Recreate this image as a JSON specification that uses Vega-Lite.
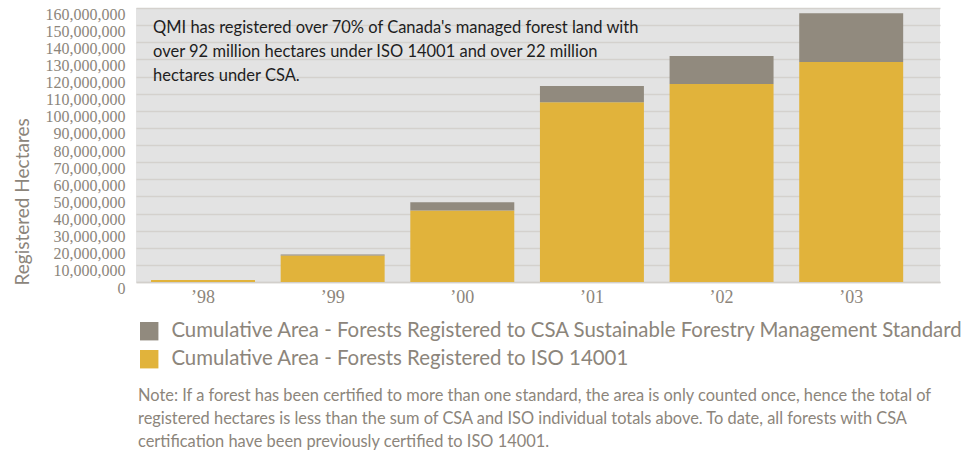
{
  "$schema": "https://vega.github.io/schema/vega-lite/v6.json",
  "autosize": {"type": "none"},
  "width": 804,
  "height": 274,
  "padding": {"left": 136, "top": 8, "right": 34, "bottom": 172},
  "background": "white",
  "config": {
    "view": {"fill": "#E3E3E3", "stroke": null},
    "font": "Lato"
  },
  "title": {
    "text": [
      "Note: If a forest has been certified to more than one standard, the area is only counted once, hence the total of",
      "registered hectares is less than the sum of CSA and ISO individual totals above. To date, all forests with CSA",
      "certification have been previously certified to ISO 14001."
    ],
    "orient": "bottom",
    "anchor": "start",
    "frame": "group",
    "font": "Lato",
    "fontSize": 16.4,
    "fontWeight": "normal",
    "color": "#8C857B",
    "lineHeight": 23,
    "offset": 18,
    "dx": 2
  },
  "data": {
    "values": [
      {"year": "’98", "series": "Cumulative Area - Forests Registered to ISO 14001", "ord": 1, "value": 1200000},
      {"year": "’98", "series": "Cumulative Area - Forests Registered to CSA Sustainable Forestry Management Standard", "ord": 2, "value": 0},
      {"year": "’99", "series": "Cumulative Area - Forests Registered to ISO 14001", "ord": 1, "value": 15500000},
      {"year": "’99", "series": "Cumulative Area - Forests Registered to CSA Sustainable Forestry Management Standard", "ord": 2, "value": 600000},
      {"year": "’00", "series": "Cumulative Area - Forests Registered to ISO 14001", "ord": 1, "value": 41800000},
      {"year": "’00", "series": "Cumulative Area - Forests Registered to CSA Sustainable Forestry Management Standard", "ord": 2, "value": 4700000},
      {"year": "’01", "series": "Cumulative Area - Forests Registered to ISO 14001", "ord": 1, "value": 105000000},
      {"year": "’01", "series": "Cumulative Area - Forests Registered to CSA Sustainable Forestry Management Standard", "ord": 2, "value": 9400000},
      {"year": "’02", "series": "Cumulative Area - Forests Registered to ISO 14001", "ord": 1, "value": 115600000},
      {"year": "’02", "series": "Cumulative Area - Forests Registered to CSA Sustainable Forestry Management Standard", "ord": 2, "value": 16400000},
      {"year": "’03", "series": "Cumulative Area - Forests Registered to ISO 14001", "ord": 1, "value": 128400000},
      {"year": "’03", "series": "Cumulative Area - Forests Registered to CSA Sustainable Forestry Management Standard", "ord": 2, "value": 28600000}
    ]
  },
  "encoding": {
    "x": {
      "field": "year",
      "type": "nominal",
      "sort": null,
      "scale": {"paddingInner": 0.198, "paddingOuter": 0.2, "align": 0.29},
      "axis": {
        "title": null,
        "labelAngle": 0,
        "labelFont": "Liberation Serif",
        "labelFontSize": 18,
        "labelColor": "#8C857B",
        "labelPadding": 6,
        "ticks": false,
        "domain": true,
        "domainColor": "#D2CFCB",
        "domainWidth": 1.5,
        "grid": false
      }
    },
    "y": {
      "type": "quantitative",
      "scale": {"domain": [0, 160000000], "nice": false},
      "axis": {
        "title": "Registered Hectares",
        "titleFont": "Lato",
        "titleFontSize": 19,
        "titleFontWeight": "normal",
        "titleColor": "#8C857B",
        "titleAngle": 270,
        "titleAlign": "left",
        "titleBaseline": "middle",
        "titleX": -114,
        "titleY": 277,
        "format": ",d",
        "values": [0, 10000000, 20000000, 30000000, 40000000, 50000000, 60000000, 70000000, 80000000, 90000000, 100000000, 110000000, 120000000, 130000000, 140000000, 150000000, 160000000],
        "labelFont": "Liberation Serif",
        "labelFontSize": 16,
        "labelColor": "#8C857B",
        "labelPadding": 11,
        "labelOffset": 6,
        "labelOverlap": false,
        "labelBound": false,
        "ticks": false,
        "domain": false,
        "grid": true,
        "gridColor": "#D4D1CD",
        "gridWidth": 1.5
      }
    }
  },
  "layer": [
    {
      "mark": {"type": "bar"},
      "encoding": {
        "y": {"field": "value", "type": "quantitative", "stack": "zero"},
        "color": {
          "field": "series",
          "type": "nominal",
          "scale": {
            "domain": ["Cumulative Area - Forests Registered to CSA Sustainable Forestry Management Standard", "Cumulative Area - Forests Registered to ISO 14001"],
            "range": ["#918A7E", "#E1B33B"]
          },
          "legend": {
            "title": null,
            "orient": "none",
            "legendX": 3,
            "legendY": 313,
            "direction": "vertical",
            "symbolType": "square",
            "symbolSize": 340,
            "symbolStrokeWidth": 0,
            "symbolOpacity": 1,
            "labelFont": "Lato",
            "labelFontSize": 20.4,
            "labelColor": "#8C857B",
            "labelLimit": 900,
            "labelOffset": 12,
            "rowPadding": 7
          }
        },
        "order": {"field": "ord", "type": "quantitative"}
      }
    },
    {
      "data": {"values": [{"note": ["QMI has registered over 70% of Canada's managed forest land with", "over 92 million hectares under ISO 14001 and over 22 million", "hectares under CSA."]}]},
      "mark": {"type": "text", "align": "left", "baseline": "top", "font": "Lato", "fontSize": 16.5, "color": "#1E1E1E", "lineHeight": 24, "dx": 2},
      "encoding": {
        "x": {"datum": "’98", "bandPosition": 0},
        "y": {"datum": 153000000},
        "text": {"field": "note"}
      }
    }
  ]
}
